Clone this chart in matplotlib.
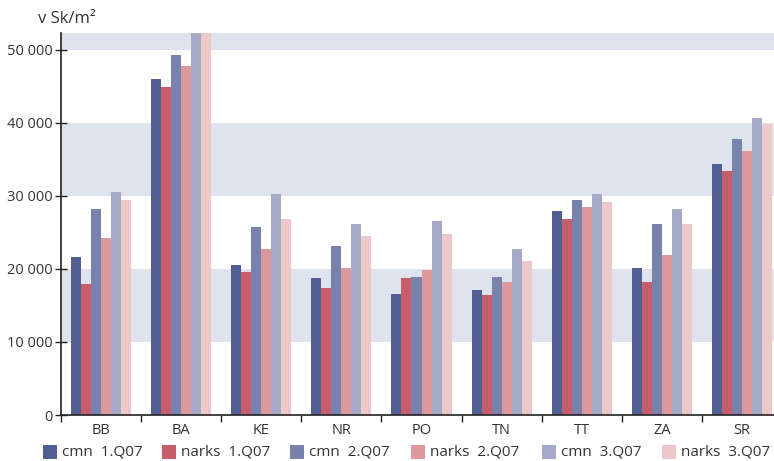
import matplotlib
matplotlib.use("Agg")
import matplotlib.pyplot as plt
from matplotlib.patches import Rectangle
import numpy as np

plt.rcParams['font.family'] = ['Open Sans', 'DejaVu Sans']

regions = ["BB", "BA", "KE", "NR", "PO", "TN", "TT", "ZA", "SR"]
series_names = ["cmn  1.Q07", "narks  1.Q07", "cmn  2.Q07",
                "narks  2.Q07", "cmn  3.Q07", "narks  3.Q07"]
cmn_1q = [21650, 46030, 20550, 18770, 16580, 17120, 27950, 20140, 34380]
narks_1q = [17950, 44930, 19590, 17400, 18770, 16440, 26850, 18220, 33420]
cmn_2q = [28220, 49320, 25750, 23150, 18900, 18900, 29450, 26160, 37800]
narks_2q = [24250, 47800, 22740, 20140, 19860, 18220, 28490, 21920, 36160]
cmn_3q = [30550, 53500, 30270, 26160, 26580, 22740, 30270, 28220, 40680]
narks_3q = [29450, 53500, 26850, 24520, 24800, 21100, 29180, 26160, 39860]
y_ticks = [0, 10000, 20000, 30000, 40000, 50000]
y_tick_labels = ["0", "10 000", "20 000", "30 000", "40 000", "50 000"]

series = [cmn_1q, narks_1q, cmn_2q, narks_2q, cmn_3q, narks_3q]
colors = ["#515f93", "#c55d6b", "#7981ad", "#db999b", "#a5aac9", "#ecc8c8"]
band_color = "#dee3ee"
axis_color = "#222222"
text_color = "#333333"

W, H = 774, 461
fig = plt.figure(figsize=(W / 100, H / 100), dpi=100)
ax = fig.add_axes([61 / W, (H - 415) / H, 721 / W, (415 - 33) / H])

ymax = 52300
ax.set_ylim(0, ymax)
ax.set_xlim(-0.5, len(regions) - 0.5)

# shaded horizontal bands
for lo, hi in [(10000, 20000), (30000, 40000), (50000, ymax)]:
    ax.axhspan(lo, hi, color=band_color, lw=0, zorder=0)

x = np.arange(len(regions))
bw = 0.125
for i, (vals, c) in enumerate(zip(series, colors)):
    ax.bar(x + (i - 2.5) * bw, vals, width=bw, color=c, lw=0, zorder=2)

for s in ["top", "right"]:
    ax.spines[s].set_visible(False)
for s in ["left", "bottom"]:
    ax.spines[s].set_color(axis_color)
    ax.spines[s].set_linewidth(1.2)
    ax.spines[s].set_zorder(3)

ax.set_yticks(y_ticks)
ax.set_yticklabels(y_tick_labels)
ax.tick_params(axis="y", direction="inout", length=8, width=1, color=axis_color,
               labelsize=10.5, labelcolor=text_color, pad=2)

# group boundaries get tick marks, group centres get the labels
ax.set_xticks(np.arange(len(regions) + 1) - 0.5)
ax.set_xticklabels([])
ax.set_xticks(x, minor=True)
ax.set_xticklabels(regions, minor=True)
ax.tick_params(axis="x", which="major", direction="out", length=5, width=1,
               color=axis_color)
ax.tick_params(axis="x", which="minor", length=0, labelsize=10.5,
               labelcolor=text_color, pad=6)

fig.text(38 / W, 1 - 19 / H, "v Sk/m²", fontsize=12, color=text_color,
         va="center", ha="left")

# legend row
square_x = [43, 162, 290, 411, 542, 662]
ly = 452
for sx, c, name in zip(square_x, colors, series_names):
    fig.patches.append(Rectangle((sx / W, 1 - (ly + 7) / H), 14 / W, 14 / H,
                                 transform=fig.transFigure, color=c, lw=0))
    fig.text((sx + 19) / W, 1 - ly / H, name, fontsize=11, color=text_color,
             va="center", ha="left")

fig.savefig("out.png", dpi=100)
